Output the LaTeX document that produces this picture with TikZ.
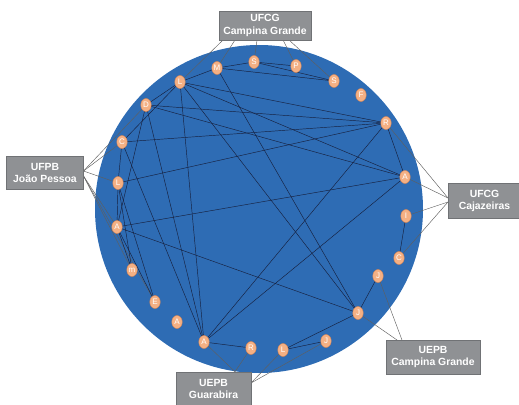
\documentclass[tikz,border=0pt]{standalone}
\usepackage{fontspec}
\setmainfont{Liberation Sans}
\usetikzlibrary{shapes.geometric,backgrounds}
\definecolor{disc}{RGB}{46,108,180}
\definecolor{nodefill}{RGB}{244,176,132}
\definecolor{nodeedge}{RGB}{214,132,84}
\definecolor{boxfill}{RGB}{143,145,148}
\definecolor{boxedge}{RGB}{112,114,117}
\definecolor{edgecol}{RGB}{22,32,62}
\definecolor{linkcol}{RGB}{95,95,95}
\begin{document}
\begin{tikzpicture}[x=1pt,y=-1pt,
 vtx/.style={ellipse, fill=nodefill, draw=nodeedge, line width=0.4pt, inner sep=0pt,
   minimum width=10.5pt, minimum height=13pt, text=white, font=\fontsize{8}{8}\selectfont},
 inst/.style={rectangle, fill=boxfill, draw=boxedge, line width=0.9pt, text=white,
   font=\bfseries\fontsize{10.4}{12.3}\selectfont, align=center, inner sep=0pt},
 tie/.style={draw=edgecol, line width=0.45pt},
 link/.style={draw=linkcol, line width=0.45pt}]
\useasboundingbox (0,0) rectangle (519,404);
\begin{scope}[on background layer]
\fill[disc] (259,209) circle [radius=164];
\end{scope}

% vertices
\node[vtx] (Lt) at (180,82) {L};
\node[vtx] (M) at (217,68) {M};
\node[vtx] (S1) at (254,62) {S};
\node[vtx] (P) at (296,66) {P};
\node[vtx] (S2) at (334,81) {S};
\node[vtx] (F) at (361,95) {F};
\node[vtx] (R) at (386,123) {R};
\node[vtx] (Ar) at (405,177) {A};
\node[vtx] (I) at (406,216) {I};
\node[vtx] (Cr) at (399,258) {C};
\node[vtx] (Jr) at (378,276) {J};
\node[vtx] (Jbr) at (358,313) {J};
\node[vtx] (Jb) at (326,341) {J};
\node[vtx] (Lb) at (283,350) {L};
\node[vtx] (Rb) at (251,348) {R};
\node[vtx] (Ab) at (204,342) {A};
\node[vtx] (Aa) at (177,322) {A};
\node[vtx] (E) at (155,302) {E};
\node[vtx] (m) at (132,270) {m};
\node[vtx] (Al) at (117,227) {A};
\node[vtx] (Ll) at (118,183) {L};
\node[vtx] (Cl) at (122,142) {C};
\node[vtx] (D) at (146,105) {D};

% institution boxes
\node[inst, minimum width=92pt, minimum height=29pt] (cg) at (265,25.5) {UFCG\\Campina Grande};
\node[inst, minimum width=77pt, minimum height=33pt] (jp) at (45,173.3) {UFPB\\João Pessoa};
\node[inst, minimum width=72pt, minimum height=35pt] (cz) at (484.5,200.8) {UFCG\\Cajazeiras};
\node[inst, minimum width=94pt, minimum height=34pt] (ecg) at (433,357.2) {UEPB\\Campina Grande};
\node[inst, minimum width=75pt, minimum height=34pt, anchor=north] (gb) at (213.5,371.7) {UEPB\\Guarabira};

% ports on the boxes
\coordinate (cg1) at (223,40);
\coordinate (cg2) at (235,40);
\coordinate (cg3) at (257,40);
\coordinate (cg4) at (283,40);
\coordinate (cg5) at (289,40);
\coordinate (jp1) at (83.5,171);
\coordinate (jp2) at (83.5,176);
\coordinate (cz1) at (448,198);
\coordinate (cz2) at (448,202);
\coordinate (ec1) at (397,340);
\coordinate (ec2) at (402,340);
\coordinate (gb1) at (235,371.7);
\coordinate (gb2) at (251,383);

\begin{scope}[on background layer]
% links to institutions
\foreach \a/\b in {Lt/cg1, M/cg2, S1/cg3, P/cg4, S2/cg5,
                   D/jp1, Cl/jp1, Ll/jp1, Al/jp2, m/jp2, E/jp2,
                   R/cz1, Ar/cz1, I/cz2, Cr/cz2,
                   Jbr/ec1, Jr/ec2,
                   Ab/gb1, Rb/gb1, Lb/gb2, Jb/gb2}
  \draw[link] (\a.center) -- (\b);
% collaborations
\foreach \a/\b in {Lt/M, M/S1, S1/P, M/S2, S1/S2,
                   Lt/D, Lt/Cl, Lt/R, Lt/Ar, Lt/Ab, Lt/Jbr,
                   M/Jbr,
                   D/R, D/Ar, D/Al, D/Ab,
                   Cl/R, Cl/Ll, Cl/Ab,
                   Ll/R, Ll/Al, Ll/m, Ll/E,
                   Al/Ar, Al/Jbr, Al/m, Al/E,
                   R/Ar, R/Ab, Ar/Ab,
                   I/Cr, Jr/Jbr,
                   Ab/Rb, Jbr/Lb, Lb/Jb}
  \draw[tie] (\a.center) -- (\b.center);
\end{scope}
\end{tikzpicture}
\end{document}
